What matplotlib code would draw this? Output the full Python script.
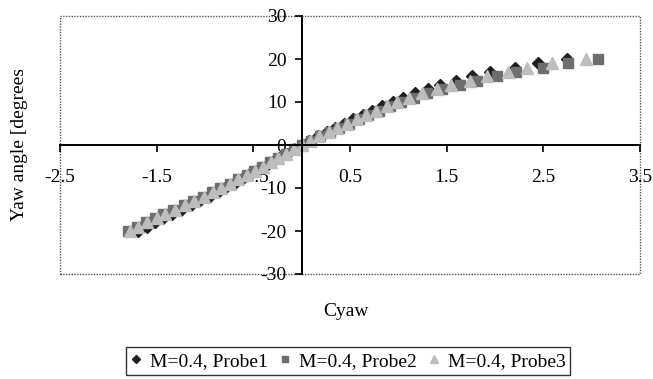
import matplotlib.pyplot as plt
from matplotlib.patches import Rectangle

plt.rcParams['font.family'] = ['Liberation Serif', 'DejaVu Serif']
plt.rcParams['axes.unicode_minus'] = False

# yaw angle set points, degrees
yaw = list(range(-20, 21))

# measured yaw coefficient for each probe
cyaw_probe1 = [-1.69, -1.60, -1.52, -1.43, -1.34, -1.25, -1.15, -1.06, -0.96, -0.87,
               -0.79, -0.70, -0.62, -0.54, -0.46, -0.38, -0.31, -0.23, -0.15, -0.08,
               0.00,
               0.08, 0.17, 0.26, 0.35, 0.44, 0.53, 0.63, 0.73, 0.83, 0.94,
               1.05, 1.17, 1.31, 1.43, 1.60, 1.76, 1.95, 2.21, 2.44, 2.74]
cyaw_probe2 = [-1.80, -1.70, -1.61, -1.52, -1.43, -1.33, -1.22, -1.12, -1.02, -0.93,
               -0.84, -0.74, -0.66, -0.57, -0.49, -0.41, -0.33, -0.24, -0.16, -0.08,
               0.00,
               0.10, 0.19, 0.29, 0.39, 0.49, 0.59, 0.69, 0.80, 0.91, 1.03,
               1.16, 1.30, 1.45, 1.64, 1.81, 2.02, 2.22, 2.50, 2.75, 3.07]
cyaw_probe3 = [-1.78, -1.69, -1.60, -1.50, -1.41, -1.31, -1.21, -1.11, -1.01, -0.92,
               -0.83, -0.74, -0.66, -0.57, -0.48, -0.40, -0.32, -0.24, -0.16, -0.08,
               0.00,
               0.09, 0.18, 0.28, 0.37, 0.47, 0.57, 0.67, 0.77, 0.88, 0.99,
               1.11, 1.24, 1.40, 1.55, 1.74, 1.92, 2.13, 2.33, 2.59, 2.94]

labels = ['M=0.4, Probe1', 'M=0.4, Probe2', 'M=0.4, Probe3']

fig = plt.figure(figsize=(6.53, 3.79), dpi=100)
ax = fig.add_axes([60 / 653, 1 - 274 / 379, 580 / 653, 258 / 379])

ax.plot(cyaw_probe1, yaw, linestyle='none', marker='D', ms=6.5,
        color='#1e1e1e', mec='#1e1e1e', label=labels[0])
ax.plot(cyaw_probe2, yaw, linestyle='none', marker='s', ms=7,
        color='#6e6e6e', mec='#6e6e6e', label=labels[1])
ax.plot(cyaw_probe3, yaw, linestyle='none', marker='^', ms=8,
        color='#bdbdbd', mec='#bdbdbd', label=labels[2])

ax.set_xlim(-2.5, 3.5)
ax.set_ylim(-30, 30)
ax.set_xticks([-2.5, -1.5, -0.5, 0.5, 1.5, 2.5, 3.5])
ax.set_xticklabels(['-2.5', '-1.5', '-0.5', '0.5', '1.5', '2.5', '3.5'])
ax.set_yticks([-30, -20, -10, 0, 10, 20, 30])

# axes cross at the origin
ax.spines['left'].set_position(('data', 0))
ax.spines['bottom'].set_position(('data', 0))
for s in ('left', 'bottom'):
    ax.spines[s].set_linewidth(1.4)
    ax.spines[s].set_color('black')
for s in ('top', 'right'):
    ax.spines[s].set_visible(False)

# dotted plot-area frame
ax.add_patch(Rectangle((0, 0), 1, 1, transform=ax.transAxes, fill=False,
                       linestyle=(0, (1, 1)), linewidth=1.0, edgecolor='#555555',
                       clip_on=False, zorder=0))

ax.tick_params(axis='x', direction='out', length=5, width=1.2, pad=12, labelsize=14)
ax.tick_params(axis='y', direction='out', length=5, width=1.2, pad=6, labelsize=14)

fig.text(20 / 653, 1 - 145 / 379, 'Yaw angle [degrees', rotation=90,
         ha='center', va='center', fontsize=14)
fig.text(346 / 653, 1 - 312 / 379, 'Cyaw', ha='center', va='center', fontsize=14)

leg = fig.legend(loc='center', bbox_to_anchor=(348 / 653, 1 - 361 / 379), ncol=3,
                 fontsize=14, frameon=True, fancybox=False, edgecolor='black',
                 handlelength=0.6, handletextpad=0.4, columnspacing=0.6,
                 borderpad=0.25, markerscale=0.7)
leg.get_frame().set_linewidth(1.0)

fig.savefig('out.png', dpi=100)
